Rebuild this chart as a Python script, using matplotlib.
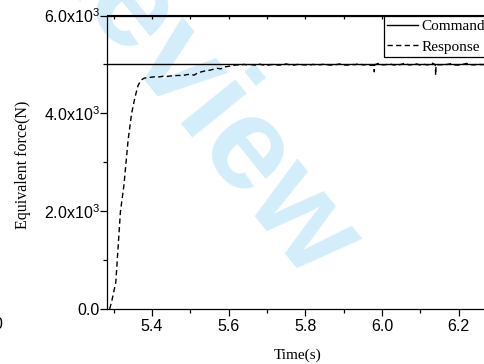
#!/usr/bin/env python3
"""Equivalent force step response: command vs response."""
import matplotlib
matplotlib.use("Agg")
import matplotlib.pyplot as plt
from matplotlib.ticker import MultipleLocator, FuncFormatter

# ---- data ----
command_t = [5.283, 6.30]
command_f = [5000, 5000]

rise_t = [5.290, 5.296, 5.306, 5.318, 5.327, 5.338, 5.347, 5.356, 5.364,
          5.372, 5.380]
rise_f = [0, 180, 550, 1990, 2520, 3450, 3990, 4330, 4570, 4680, 4720]

plateau_t = [5.39, 5.40, 5.41, 5.42, 5.43, 5.44, 5.45, 5.46, 5.47, 5.48,
             5.49, 5.50, 5.51, 5.52, 5.53, 5.54, 5.55, 5.56, 5.57, 5.58,
             5.59, 5.60, 5.61, 5.62, 5.63, 5.64, 5.65, 5.66, 5.67, 5.68,
             5.69, 5.70, 5.71, 5.72, 5.73, 5.74, 5.75, 5.76, 5.77, 5.78,
             5.79, 5.80, 5.81, 5.82, 5.83, 5.84, 5.85, 5.86, 5.87, 5.88,
             5.89, 5.90, 5.91, 5.92, 5.93, 5.94, 5.95, 5.96, 5.97, 5.979,
             5.980, 5.981, 5.99, 6.00, 6.01, 6.02, 6.03, 6.04, 6.05, 6.06,
             6.07, 6.08, 6.09, 6.10, 6.11, 6.12, 6.13, 6.139, 6.140, 6.141,
             6.15, 6.16, 6.17, 6.18, 6.19, 6.20, 6.21, 6.22, 6.23, 6.24,
             6.25, 6.26, 6.27, 6.28, 6.29, 6.30]
plateau_f = [4730, 4740, 4750, 4745, 4760, 4755, 4765, 4770, 4775, 4770,
             4790, 4800, 4780, 4830, 4850, 4870, 4880, 4900, 4920, 4910,
             4950, 4960, 4975, 4990, 4985, 5000, 4990, 4995, 4985, 5005,
             4990, 4980, 4995, 5000, 4985, 4990, 5010, 4990, 4985, 5000,
             4995, 4990, 4985, 5000, 4990, 4995, 5005, 4990, 4985, 4995,
             5010, 4990, 4985, 5000, 4995, 5015, 4990, 4995, 4980, 4985,
             4850, 4990, 5020, 4990, 4995, 5010, 4990, 4985, 5000, 5025,
             4990, 4995, 5010, 4985, 5000, 4990, 5030, 4995, 4780, 4990,
             4995, 4990, 5000, 5015, 4990, 4985, 5000, 5020, 4995, 4990,
             5005, 4995, 5000, 4990, 5000, 4995]

x_limits = (5.283, 6.30)
y_limits = (0, 6000)

SANS = "Liberation Sans"
SERIF = "Liberation Serif"


def sci_label(v, pos):
    if v == 0:
        return "0.0"
    return r"$\mathregular{%.1fx10^{3}}$" % (v / 1000.0)


def main():
    W, H = 484, 364
    fig = plt.figure(figsize=(W / 100, H / 100), dpi=100)

    # watermark behind everything
    fig.text(188 / W, 1 - 90 / H, "Review", fontsize=95, fontweight="bold",
             family=SANS, color="#d3eefa", rotation=-51, rotation_mode="anchor",
             ha="center", va="center", zorder=-1)

    left, right, top, bottom = 107, 497, 15.5, 309
    ax = fig.add_axes([left / W, 1 - bottom / H, (right - left) / W, (bottom - top) / H])
    ax.patch.set_alpha(0)

    ax.plot(command_t, command_f, color="black", lw=1.0, label="Command")
    ax.plot(rise_t + plateau_t, rise_f + plateau_f, color="black", lw=1.0,
            linestyle=(0, (3.8, 2.4)), label="Response")

    ax.set_xlim(*x_limits)
    ax.set_ylim(*y_limits)

    ax.xaxis.set_major_locator(MultipleLocator(0.2))
    ax.xaxis.set_minor_locator(MultipleLocator(0.1))
    ax.yaxis.set_major_locator(MultipleLocator(2000))
    ax.yaxis.set_minor_locator(MultipleLocator(1000))
    ax.yaxis.set_major_formatter(FuncFormatter(sci_label))
    ax.xaxis.set_major_formatter(FuncFormatter(lambda v, p: "%.1f" % v))

    for s in ax.spines.values():
        s.set_linewidth(0.9)

    ax.tick_params(which="both", direction="out", top=False, right=False,
                   width=0.9, labelsize=11.5)
    ax.tick_params(which="major", length=5)
    ax.tick_params(which="minor", length=3)
    ax.tick_params(axis="y", pad=0)
    ax.tick_params(axis="x", pad=2)
    for lab in ax.get_xticklabels() + ax.get_yticklabels():
        lab.set_family(SANS)

    # inward ticks along the top edge
    sec = ax.secondary_xaxis("top")
    sec.xaxis.set_major_locator(MultipleLocator(0.1))
    sec.tick_params(which="both", direction="in", length=3, width=0.9,
                    labeltop=False)

    ax.set_xlabel("Time(s)", family=SERIF, fontsize=11)
    ax.xaxis.set_label_coords((298 - left) / (right - left), -0.133)
    ax.set_ylabel("Equivalent force(N)", family=SERIF, fontsize=11.5)
    ax.yaxis.set_label_coords(-(left - 31) / (right - left), 0.49)

    leg = fig.legend(loc="upper left", bbox_to_anchor=(383.5 / W, 1 - 15.5 / H),
                     prop={"family": SERIF, "size": 11}, frameon=True,
                     fancybox=False, edgecolor="black", framealpha=1,
                     borderpad=0.25, labelspacing=0.45, handlelength=2.0,
                     handletextpad=0.25, borderaxespad=0)
    leg.get_frame().set_linewidth(0.9)

    # cut-off label of a neighbouring panel at the far left edge
    fig.text(2.5 / W, 1 - 317 / H, "0", family=SANS, fontsize=11.5,
             ha="right", va="top")

    fig.savefig("out.png", dpi=100)


if __name__ == "__main__":
    main()
